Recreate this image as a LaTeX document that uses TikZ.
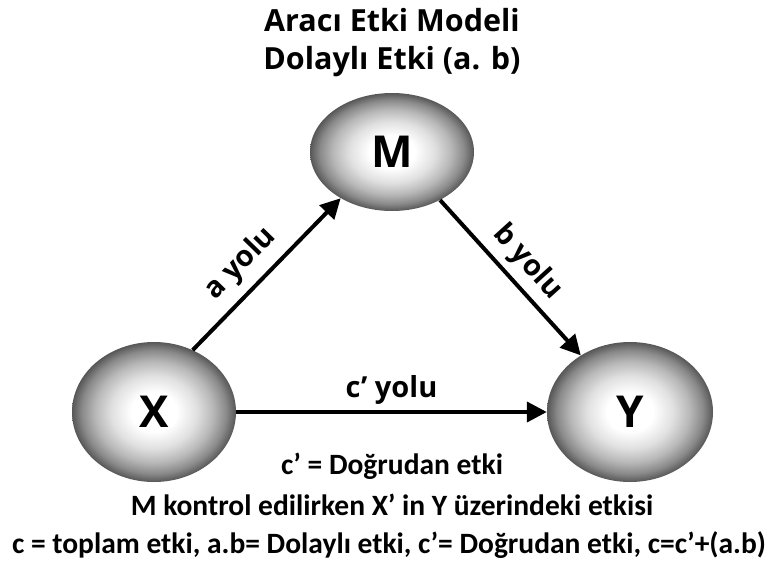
\documentclass[tikz,border=0pt]{standalone}
\usepackage{fontspec}
\setmainfont{Open Sans}
\newfontfamily\calib{Carlito}
\usetikzlibrary{arrows.meta,shapes.geometric}
\pgfdeclareradialshading{ball}{\pgfpoint{0bp}{0bp}}{%
  color(0bp)=(white); color(7bp)=(white); color(13bp)=(black!12);
  color(18bp)=(black!28); color(22bp)=(black!46); color(25bp)=(black!66); color(50bp)=(black!66)}
\tikzset{
  ball/.style={ellipse, shading=ball, inner sep=0pt, font=\fontsize{44}{46}\selectfont\bfseries},
  path/.style={line width=4pt, -{Triangle[length=20pt,width=20pt]}},
  lab/.style={font=\fontsize{29}{31}\selectfont\bfseries},
  title/.style={font=\fontsize{30.5}{32}\selectfont\bfseries},
  note/.style={font=\calib\fontsize{29.5}{31}\selectfont\bfseries}
}
\begin{document}
\begin{tikzpicture}[x=1pt,y=-1pt]
\useasboundingbox (0,0) rectangle (778,562);
\node[title] (t1) at (392,20) {Aracı Etki Modeli};
\node[title] (t2) at (392,62) {Dolaylı Etki (a. b)};
\node[ball, minimum width=164pt, minimum height=118pt] (M) at (392,152) {M};
\node[ball, minimum width=164pt, minimum height=140pt] (X) at (154,412) {X};
\node[ball, minimum width=166pt, minimum height=140pt] (Y) at (630,412) {Y};
\draw[path] (X.58) -- node[lab, pos=0.45, above=6pt, sloped] {a yolu} (M.222);
\draw[path] (M.-45) -- node[lab, midway, above=3pt, sloped] {b yolu} (Y.131);
\draw[path] (X.east) -- node[lab, midway, above=2pt] {c’ yolu} (Y.west);
\node[note] (n1) at (392,466) {c’ = Doğrudan etki};
\node[note] (n2) at (392,505) {M kontrol edilirken X’ in Y üzerindeki etkisi};
\node[note] (n3) at (389,545) {c = toplam etki, a.b= Dolaylı etki, c’= Doğrudan etki, c=c’+(a.b)};
\end{tikzpicture}
\end{document}
